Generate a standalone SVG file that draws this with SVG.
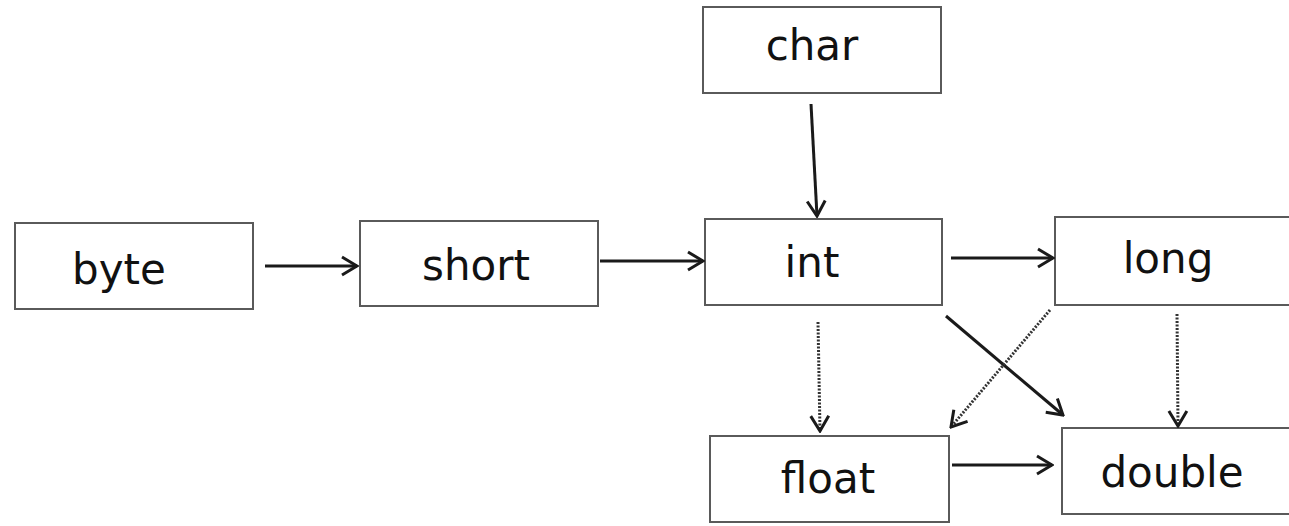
<svg xmlns="http://www.w3.org/2000/svg" width="1289" height="526" viewBox="0 0 1289 526">
<style>
.box{fill:#fff;stroke:#5a5a5a;stroke-width:2}
.lbl{font-family:"DejaVu Sans",Verdana,sans-serif;font-size:42px;fill:#111;text-anchor:middle}
.c{stroke:#1a1a1a;stroke-width:3;fill:none}
.d{stroke:#333;stroke-width:3;fill:none;stroke-dasharray:2 1.5}
</style>
<defs>
<marker id="ah" viewBox="0 0 22 22" refX="20" refY="11" markerWidth="22" markerHeight="22" markerUnits="userSpaceOnUse" orient="auto">
<path d="M5,2 L20,11 L5,20" fill="none" stroke="#1a1a1a" stroke-width="3"/>
</marker>
</defs>
<rect width="1289" height="526" fill="#fff"/>
<g id="byte"><rect class="box" x="15" y="223" width="238" height="86"/><text class="lbl" x="119" y="284">byte</text></g>
<g id="short"><rect class="box" x="360" y="221" width="238" height="85"/><text class="lbl" x="476" y="280">short</text></g>
<g id="char"><rect class="box" x="703" y="7" width="238" height="86"/><text class="lbl" x="812" y="60">char</text></g>
<g id="int"><rect class="box" x="705" y="219" width="237" height="86"/><text class="lbl" x="812" y="277">int</text></g>
<g id="long"><rect class="box" x="1055" y="217" width="240" height="88"/><text class="lbl" x="1168" y="273">long</text></g>
<g id="float"><rect class="box" x="710" y="436" width="239" height="86"/><text class="lbl" x="828" y="493">float</text></g>
<g id="double"><rect class="box" x="1062" y="428" width="235" height="86"/><text class="lbl" x="1172" y="487">double</text></g>
<g id="connectors">
<line class="c" x1="265" y1="266" x2="357" y2="266" marker-end="url(#ah)"/>
<line class="c" x1="600" y1="261" x2="703" y2="261" marker-end="url(#ah)"/>
<line class="c" x1="811" y1="104" x2="817" y2="216" marker-end="url(#ah)"/>
<line class="c" x1="951" y1="258" x2="1053" y2="258" marker-end="url(#ah)"/>
<line class="c" x1="946" y1="316" x2="1063" y2="415" marker-end="url(#ah)"/>
<line class="c" x1="952" y1="465" x2="1052" y2="465" marker-end="url(#ah)"/>
<line class="d" x1="818" y1="322" x2="820" y2="431" marker-end="url(#ah)"/>
<line class="d" x1="1050" y1="310" x2="951" y2="427" marker-end="url(#ah)"/>
<line class="d" x1="1177" y1="314" x2="1178" y2="426" marker-end="url(#ah)"/>
</g>
</svg>
